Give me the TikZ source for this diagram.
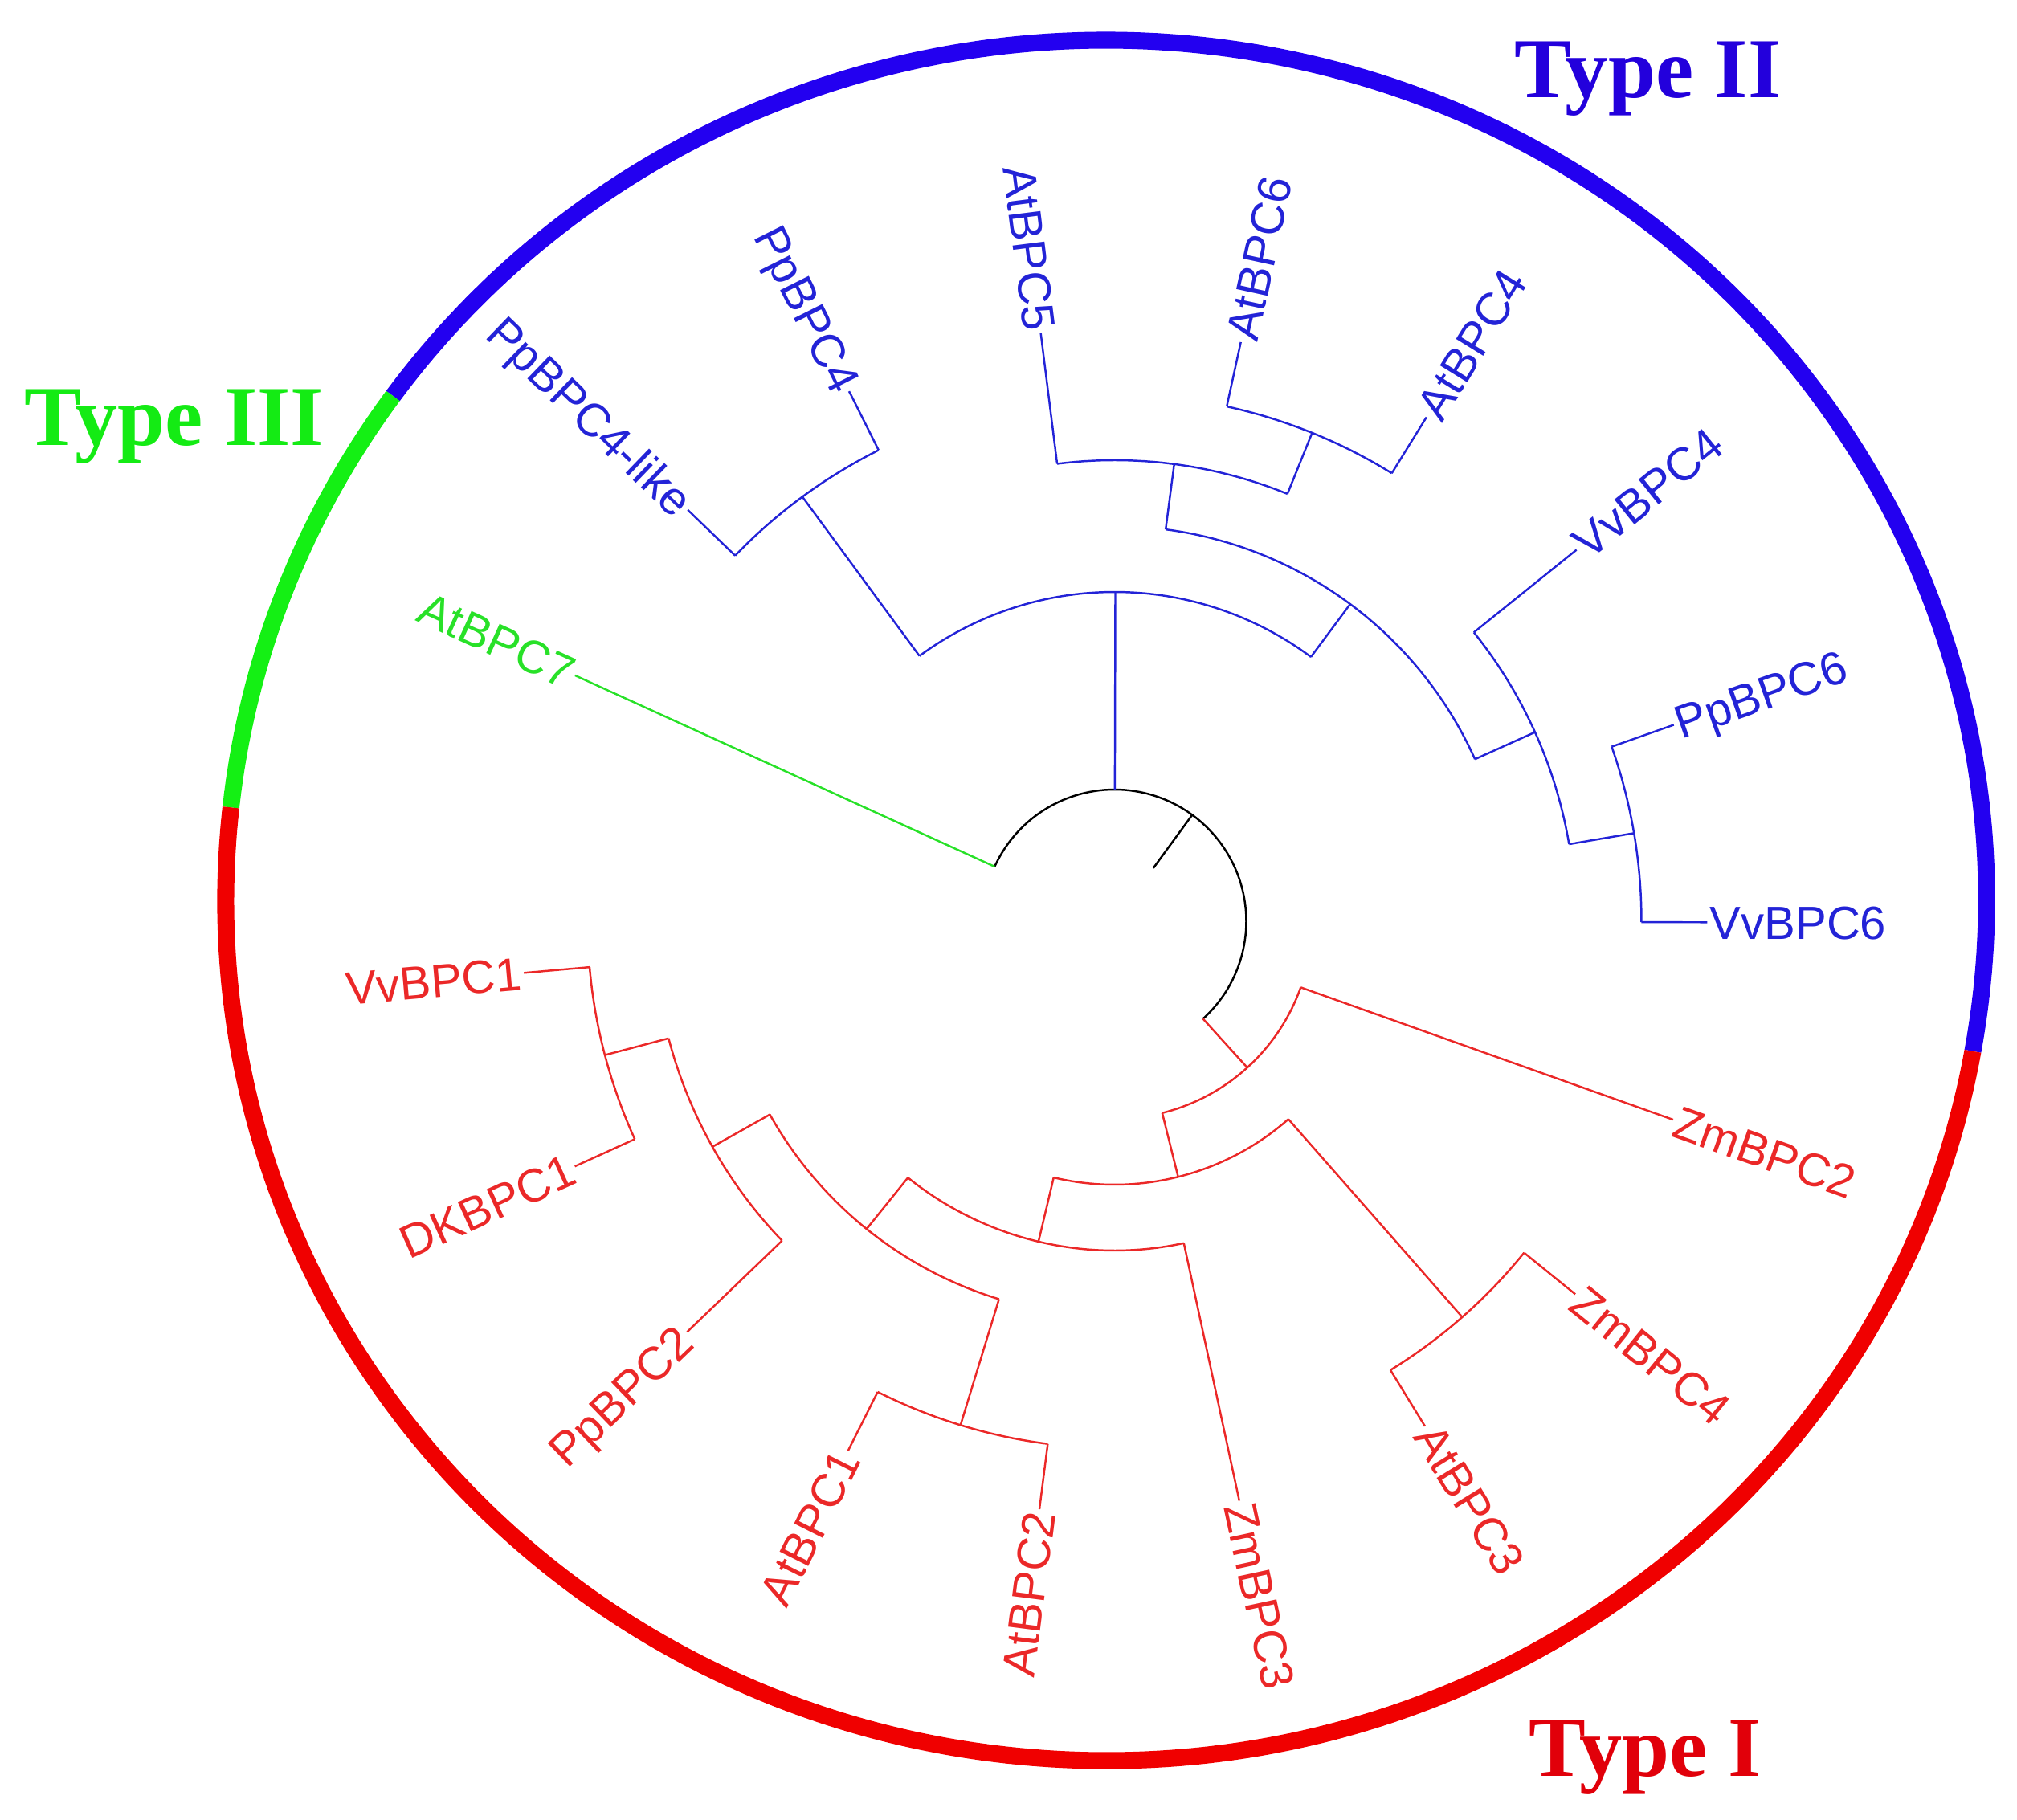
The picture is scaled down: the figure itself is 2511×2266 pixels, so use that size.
\documentclass[tikz,border=0pt]{standalone}
\usepackage{fontspec}
\setmainfont{Liberation Sans}
\newfontfamily\titlefont{Liberation Serif}
\definecolor{treeblue}{RGB}{35,35,215}
\definecolor{treered}{RGB}{235,40,40}
\definecolor{treegreen}{RGB}{40,225,40}
\definecolor{ringblue}{RGB}{35,0,240}
\definecolor{ringred}{RGB}{240,0,0}
\definecolor{ringgreen}{RGB}{20,240,20}
\definecolor{titleblue}{RGB}{35,0,220}
\definecolor{titlegreen}{RGB}{20,235,20}
\definecolor{titlered}{RGB}{225,0,10}
\begin{document}
\begin{tikzpicture}[x=0.01cm,y=0.01cm,
  tb/.style={draw=treeblue, line width=0.7pt},
  tr/.style={draw=treered, line width=0.7pt},
  tg/.style={draw=treegreen, line width=0.7pt},
  tk/.style={draw=black, line width=0.7pt},
  leaf/.style={inner xsep=0.8pt, inner ysep=0pt, text height=11.8pt, text depth=0pt, font=\fontsize{16.5}{19}\selectfont},
  bl/.style={leaf, text=treeblue},
  rl/.style={leaf, text=treered},
  gl/.style={leaf, text=treegreen},
  ring/.style={line width=6pt},
  title/.style={font=\titlefont\bfseries\fontsize{30.2}{36}\selectfont, anchor=base, inner sep=0pt}
]
\useasboundingbox (-1387.5,-1119) rectangle (1123.5,1147);

% ---------- outer ring ----------
\draw[ring, ringblue] (-10.5,26) ++(-10.1:1096 and 1071) arc[start angle=-10.1, end angle=144.1, x radius=1096, y radius=1071];
\draw[ring, ringgreen] (-10.5,26) ++(144.1:1096 and 1071) arc[start angle=144.1, end angle=173.8, x radius=1096, y radius=1071];
\draw[ring, ringred] (-10.5,26) ++(173.8:1096 and 1071) arc[start angle=173.8, end angle=349.9, x radius=1096, y radius=1071];

% ---------- titles ----------
\node[title, text=titleblue] (t2) at (664.2,1025.3) {Type II};
\node[title, text=titlegreen] (t3) at (-1170.8,592) {Type III};
\node[title, text=titlered] (t1) at (660.8,-1064.7) {Type I};

% ---------- leaf labels ----------
\node[bl, anchor=west, rotate=-0.1]   (VvBPC6) at (-0.1:738) {VvBPC6};
\node[bl, anchor=west, rotate=19.35]  (PpBPC6) at (19.35:738) {PpBPC6};
\node[bl, anchor=west, rotate=38.8]   (VvBPC4) at (38.8:738) {VvBPC4};
\node[bl, anchor=west, rotate=58.25]  (AtBPC4) at (58.25:738) {AtBPC4};
\node[bl, anchor=west, rotate=77.7]   (AtBPC6) at (77.7:738) {AtBPC6};
\node[bl, anchor=east, rotate=-82.85] (AtBPC5) at (97.15:738) {AtBPC5};
\node[bl, anchor=east, rotate=-63.4]  (PpBPC4) at (116.6:738) {PpBPC4};
\node[bl, anchor=east, rotate=-43.95] (PpBPC4like) at (136.05:738) {PpBPC4-like};
\node[gl, anchor=east, rotate=-24.5]  (AtBPC7) at (155.5:738) {AtBPC7};
\node[rl, anchor=east, rotate=5]      (VvBPC1) at (185:738) {VvBPC1};
\node[rl, anchor=east, rotate=24.43]  (DKBPC1) at (204.43:738) {DKBPC1};
\node[rl, anchor=east, rotate=43.86]  (PpBPC2) at (223.86:738) {PpBPC2};
\node[rl, anchor=east, rotate=63.29]  (AtBPC1) at (243.29:738) {AtBPC1};
\node[rl, anchor=east, rotate=82.72]  (AtBPC2) at (262.72:738) {AtBPC2};
\node[rl, anchor=west, rotate=-77.85] (ZmBPC3) at (282.15:738) {ZmBPC3};
\node[rl, anchor=west, rotate=-58.42] (AtBPC3) at (301.58:738) {AtBPC3};
\node[rl, anchor=west, rotate=-38.99] (ZmBPC4) at (321.01:738) {ZmBPC4};
\node[rl, anchor=west, rotate=-19.56] (ZmBPC2) at (340.44:738) {ZmBPC2};

% ---------- internal node coordinates ----------
\coordinate (rootin) at (53.85:82);
\coordinate (rootn) at (53.85:164);
% blue
\coordinate (nBlueb) at (89.856:164);   \coordinate (nBlue) at (89.856:410);
\coordinate (nP4b) at (126.325:410);    \coordinate (nP4) at (126.325:656);
\coordinate (nMidb) at (53.3875:410);   \coordinate (nMid) at (53.3875:492);
\coordinate (nA5b) at (82.5625:492);    \coordinate (nA5) at (82.5625:574);
\coordinate (nA46b) at (67.975:574);    \coordinate (nA46) at (67.975:656);
\coordinate (nV4b) at (24.2125:492);    \coordinate (nV4) at (24.2125:574);
\coordinate (nP6b) at (9.625:574);      \coordinate (nP6) at (9.625:656);
% red
\coordinate (nRedb) at (312.205:164);   \coordinate (nRed) at (312.205:246);
\coordinate (nZb) at (283.97:246);      \coordinate (nZ) at (283.97:328);
\coordinate (nYb) at (256.648:328);     \coordinate (nY) at (256.648:410);
\coordinate (nZ4b) at (311.295:328);    \coordinate (nZ4) at (311.295:656);
\coordinate (nXb) at (231.146:410);     \coordinate (nX) at (231.146:492);
\coordinate (nP2b) at (209.2875:492);   \coordinate (nP2) at (209.2875:574);
\coordinate (nA12b) at (253.005:492);   \coordinate (nA12) at (253.005:656);
\coordinate (nV1b) at (194.715:574);    \coordinate (nV1) at (194.715:656);
% leaf bases
\coordinate (VvBPC6b) at (-0.1:656);
\coordinate (PpBPC6b) at (19.35:656);
\coordinate (VvBPC4b) at (38.8:574);
\coordinate (AtBPC4b) at (58.25:656);
\coordinate (AtBPC6b) at (77.7:656);
\coordinate (AtBPC5b) at (97.15:574);
\coordinate (PpBPC4b) at (116.6:656);
\coordinate (PpBPC4likeb) at (136.05:656);
\coordinate (AtBPC7b) at (155.5:164);
\coordinate (VvBPC1b) at (185:656);
\coordinate (DKBPC1b) at (204.43:656);
\coordinate (PpBPC2b) at (223.86:574);
\coordinate (AtBPC1b) at (243.29:656);
\coordinate (AtBPC2b) at (262.72:656);
\coordinate (ZmBPC3b) at (282.15:410);
\coordinate (AtBPC3b) at (301.58:656);
\coordinate (ZmBPC4b) at (321.01:656);
\coordinate (ZmBPC2b) at (340.44:246);

% ---------- root ----------
\draw[tk] (-47.795:164) arc[start angle=-47.795, end angle=155.5, radius=164];
\draw[tk] (rootin) -- (rootn);

% ---------- Type III ----------
\draw[tg] (AtBPC7b) -- (AtBPC7.east);

% ---------- Type II ----------
\draw[tb] (nBlueb) -- (nBlue);
\draw[tb] (53.3875:410) arc[start angle=53.3875, end angle=126.325, radius=410];
\draw[tb] (nP4b) -- (nP4);
\draw[tb] (116.6:656) arc[start angle=116.6, end angle=136.05, radius=656];
\draw[tb] (PpBPC4b) -- (PpBPC4.east);
\draw[tb] (PpBPC4likeb) -- (PpBPC4like.east);
\draw[tb] (nMidb) -- (nMid);
\draw[tb] (24.2125:492) arc[start angle=24.2125, end angle=82.5625, radius=492];
\draw[tb] (nA5b) -- (nA5);
\draw[tb] (67.975:574) arc[start angle=67.975, end angle=97.15, radius=574];
\draw[tb] (AtBPC5b) -- (AtBPC5.east);
\draw[tb] (nA46b) -- (nA46);
\draw[tb] (58.25:656) arc[start angle=58.25, end angle=77.7, radius=656];
\draw[tb] (AtBPC4b) -- (AtBPC4.west);
\draw[tb] (AtBPC6b) -- (AtBPC6.west);
\draw[tb] (nV4b) -- (nV4);
\draw[tb] (9.625:574) arc[start angle=9.625, end angle=38.8, radius=574];
\draw[tb] (VvBPC4b) -- (VvBPC4.west);
\draw[tb] (nP6b) -- (nP6);
\draw[tb] (-0.1:656) arc[start angle=-0.1, end angle=19.35, radius=656];
\draw[tb] (VvBPC6b) -- (VvBPC6.west);
\draw[tb] (PpBPC6b) -- (PpBPC6.west);

% ---------- Type I ----------
\draw[tr] (nRedb) -- (nRed);
\draw[tr] (283.97:246) arc[start angle=283.97, end angle=340.44, radius=246];
\draw[tr] (ZmBPC2b) -- (ZmBPC2.west);
\draw[tr] (nZb) -- (nZ);
\draw[tr] (256.648:328) arc[start angle=256.648, end angle=311.295, radius=328];
\draw[tr] (nZ4b) -- (nZ4);
\draw[tr] (301.58:656) arc[start angle=301.58, end angle=321.01, radius=656];
\draw[tr] (AtBPC3b) -- (AtBPC3.west);
\draw[tr] (ZmBPC4b) -- (ZmBPC4.west);
\draw[tr] (nYb) -- (nY);
\draw[tr] (231.146:410) arc[start angle=231.146, end angle=282.15, radius=410];
\draw[tr] (ZmBPC3b) -- (ZmBPC3.west);
\draw[tr] (nXb) -- (nX);
\draw[tr] (209.2875:492) arc[start angle=209.2875, end angle=253.005, radius=492];
\draw[tr] (nA12b) -- (nA12);
\draw[tr] (243.29:656) arc[start angle=243.29, end angle=262.72, radius=656];
\draw[tr] (AtBPC1b) -- (AtBPC1.east);
\draw[tr] (AtBPC2b) -- (AtBPC2.east);
\draw[tr] (nP2b) -- (nP2);
\draw[tr] (194.715:574) arc[start angle=194.715, end angle=223.86, radius=574];
\draw[tr] (PpBPC2b) -- (PpBPC2.east);
\draw[tr] (nV1b) -- (nV1);
\draw[tr] (185:656) arc[start angle=185, end angle=204.43, radius=656];
\draw[tr] (VvBPC1b) -- (VvBPC1.east);
\draw[tr] (DKBPC1b) -- (DKBPC1.east);
\end{tikzpicture}
\end{document}
